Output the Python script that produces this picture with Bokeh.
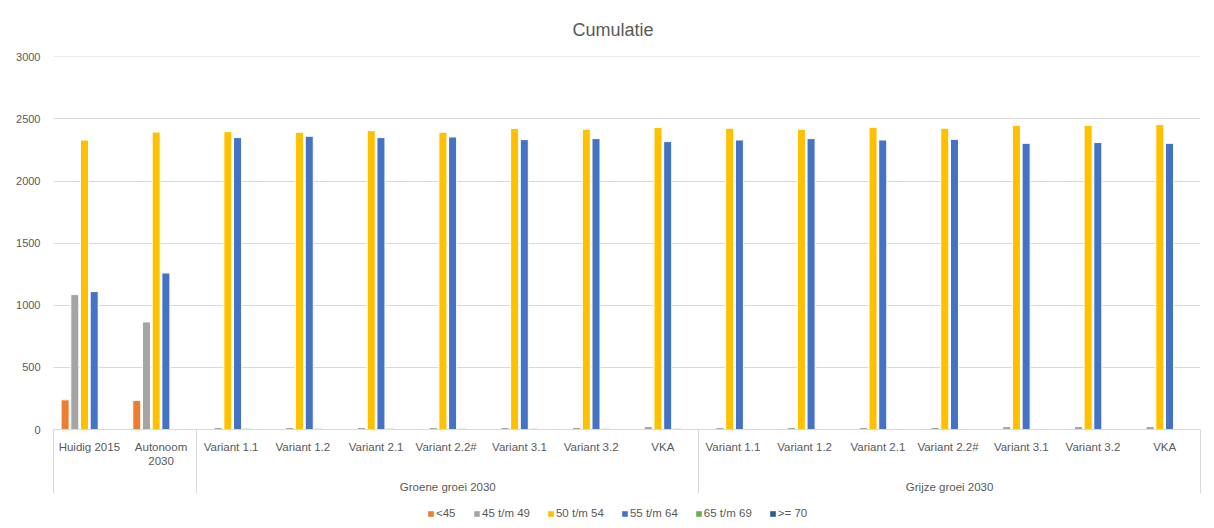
from bokeh.plotting import figure
from bokeh.layouts import column
from bokeh.models import (ColumnDataSource, FixedTicker, LinearAxis, Legend, LegendItem,
                          Range1d)
from bokeh.transform import dodge
from bokeh.embed import file_html
from bokeh.resources import INLINE

# ---------------- data ----------------
categories = ["Huidig 2015", "Autonoom\n2030",
              "Variant  1.1", "Variant  1.2", "Variant 2.1", "Variant  2.2#",
              "Variant 3.1", "Variant 3.2", "VKA",
              "Variant  1.1", "Variant  1.2", "Variant 2.1", "Variant  2.2#",
              "Variant 3.1", "Variant 3.2", "VKA"]
groups = ["Groene groei 2030", "Grijze groei 2030"]
group_sizes = [2, 7, 7]          # ungrouped first two, then the two groups
series_names = ["<45", "45 t/m 49", "50 t/m 54", "55 t/m 64", "65 t/m 69", ">= 70"]
colors = ["#ED7D31", "#A5A5A5", "#FFC000", "#4472C4", "#70AD47", "#255E91"]

s_lt45 = [239, 233, 0, 0, 0, 0, 0, 0, 0, 0, 0, 0, 0, 0, 0, 0]
s_45_49 = [1086, 866, 16, 16, 16, 16, 16, 16, 24, 16, 16, 16, 16, 24, 24, 24]
s_50_54 = [2330, 2395, 2398, 2393, 2406, 2393, 2423, 2417, 2431,
           2425, 2417, 2433, 2425, 2449, 2449, 2455]
s_55_64 = [1110, 1260, 2350, 2361, 2350, 2355, 2334, 2342, 2318,
           2331, 2342, 2331, 2336, 2304, 2310, 2304]
s_65_69 = [0, 0, 10, 10, 10, 10, 10, 10, 10, 5, 5, 5, 5, 5, 5, 5]
s_ge70 = [0, 0, 0, 0, 0, 0, 0, 0, 0, 0, 0, 0, 0, 0, 0, 0]
y_ticks = [0, 500, 1000, 1500, 2000, 2500, 3000]

series = [s_lt45, s_45_49, s_50_54, s_55_64, s_65_69, s_ge70]

# ---------------- derived ----------------
n = len(categories)
xs = list(range(n))
data = {"x": xs}
keys = []
for i, s in enumerate(series):
    k = f"s{i}"
    keys.append(k)
    data[k] = s
source = ColumnDataSource(data)

bounds = [-0.5]
acc = 0
for g in group_sizes:
    acc += g
    bounds.append(acc - 0.5)
group_centers = []
start = group_sizes[0]
for g in group_sizes[1:]:
    group_centers.append(start + (g - 1) / 2)
    start += g

TXT = "#595959"
GRID = "#D9D9D9"
FONT = "Liberation Sans"

p = figure(width=1206, height=506, output_backend="svg", toolbar_location=None,
           x_range=Range1d(-0.5, n - 0.5), y_range=Range1d(0, 3003),
           min_border_left=53, min_border_right=6, min_border_top=56,
           min_border_bottom=77)
p.outline_line_color = None
p.background_fill_color = "white"
p.border_fill_color = "white"

p.title.text = "Cumulatie"
p.title.align = "left"
p.title.offset = 519
p.title.text_font = FONT
p.title.text_font_size = "18px"
p.title.text_font_style = "normal"
p.title.text_color = TXT
p.title.standoff = 34

pitch = 0.1353
renderers = []
for i, k in enumerate(keys):
    r = p.vbar(x=dodge("x", (i - 2.5) * pitch, range=p.x_range), top=k, width=0.112,
               source=source, fill_color=colors[i], line_color="white", line_width=1)
    renderers.append(r)

# y axis
p.yaxis.ticker = FixedTicker(ticks=y_ticks)
p.yaxis.axis_line_color = None
p.yaxis.major_tick_line_color = None
p.yaxis.minor_tick_line_color = None
p.yaxis.major_label_text_font = FONT
p.yaxis.major_label_text_font_size = "11px"
p.yaxis.major_label_text_color = TXT
p.yaxis.major_label_standoff = 7
p.ygrid.grid_line_color = GRID
p.ygrid.ticker = FixedTicker(ticks=y_ticks)
p.xgrid.grid_line_color = None

# category axis (minor ticks = group separators)
xa = p.xaxis[0]
xa.ticker = FixedTicker(ticks=xs, minor_ticks=bounds)
xa.major_label_overrides = {x: c for x, c in zip(xs, categories)}
xa.axis_line_color = GRID
xa.major_tick_line_color = None
xa.major_tick_out = 0
xa.major_tick_in = 0
xa.minor_tick_line_color = GRID
xa.minor_tick_out = 64
xa.minor_tick_in = 0
xa.major_label_text_font = FONT
xa.major_label_text_font_size = "11.5px"
xa.major_label_text_color = TXT
xa.major_label_standoff = -53

# group axis
ga = LinearAxis(ticker=FixedTicker(ticks=group_centers))
ga.major_label_overrides = {x: g for x, g in zip(group_centers, groups)}
ga.axis_line_color = None
ga.major_tick_line_color = None
ga.minor_tick_line_color = None
ga.major_tick_out = 0
ga.major_tick_in = 0
ga.major_label_text_font = FONT
ga.major_label_text_font_size = "11.5px"
ga.major_label_text_color = TXT
ga.major_label_standoff = 11
p.add_layout(ga, "below")

# ---------------- legend strip ----------------
# hidden renderers (same data) only provide the legend swatches
lg = figure(width=1206, height=14, output_backend="svg", toolbar_location=None,
            x_range=Range1d(-0.5, n - 0.5), y_range=Range1d(0, 3003),
            x_axis_location=None, y_axis_location=None,
            min_border_left=0, min_border_right=0, min_border_top=0, min_border_bottom=0)
lg.grid.visible = False
lg.outline_line_color = None
lg.border_fill_color = "white"
lg.background_fill_color = "white"
leg_renderers = [lg.vbar(x="x", top=k, width=0.1, source=source, visible=False,
                         fill_color=c, line_color=None) for k, c in zip(keys, colors)]
legend = Legend(items=[LegendItem(label=nm, renderers=[r]) for nm, r in zip(series_names, leg_renderers)],
                orientation="horizontal", location=(374, 1),
                glyph_width=7, glyph_height=7, label_standoff=2, spacing=17,
                label_text_font=FONT, label_text_font_size="11.5px", label_text_color=TXT,
                border_line_color=None, background_fill_alpha=0, padding=0, margin=0,
                label_height=12, inactive_fill_alpha=0)
lg.add_layout(legend, "center")

layout = column(p, lg, spacing=0)
open("out.html", "w").write(file_html(layout, INLINE))
